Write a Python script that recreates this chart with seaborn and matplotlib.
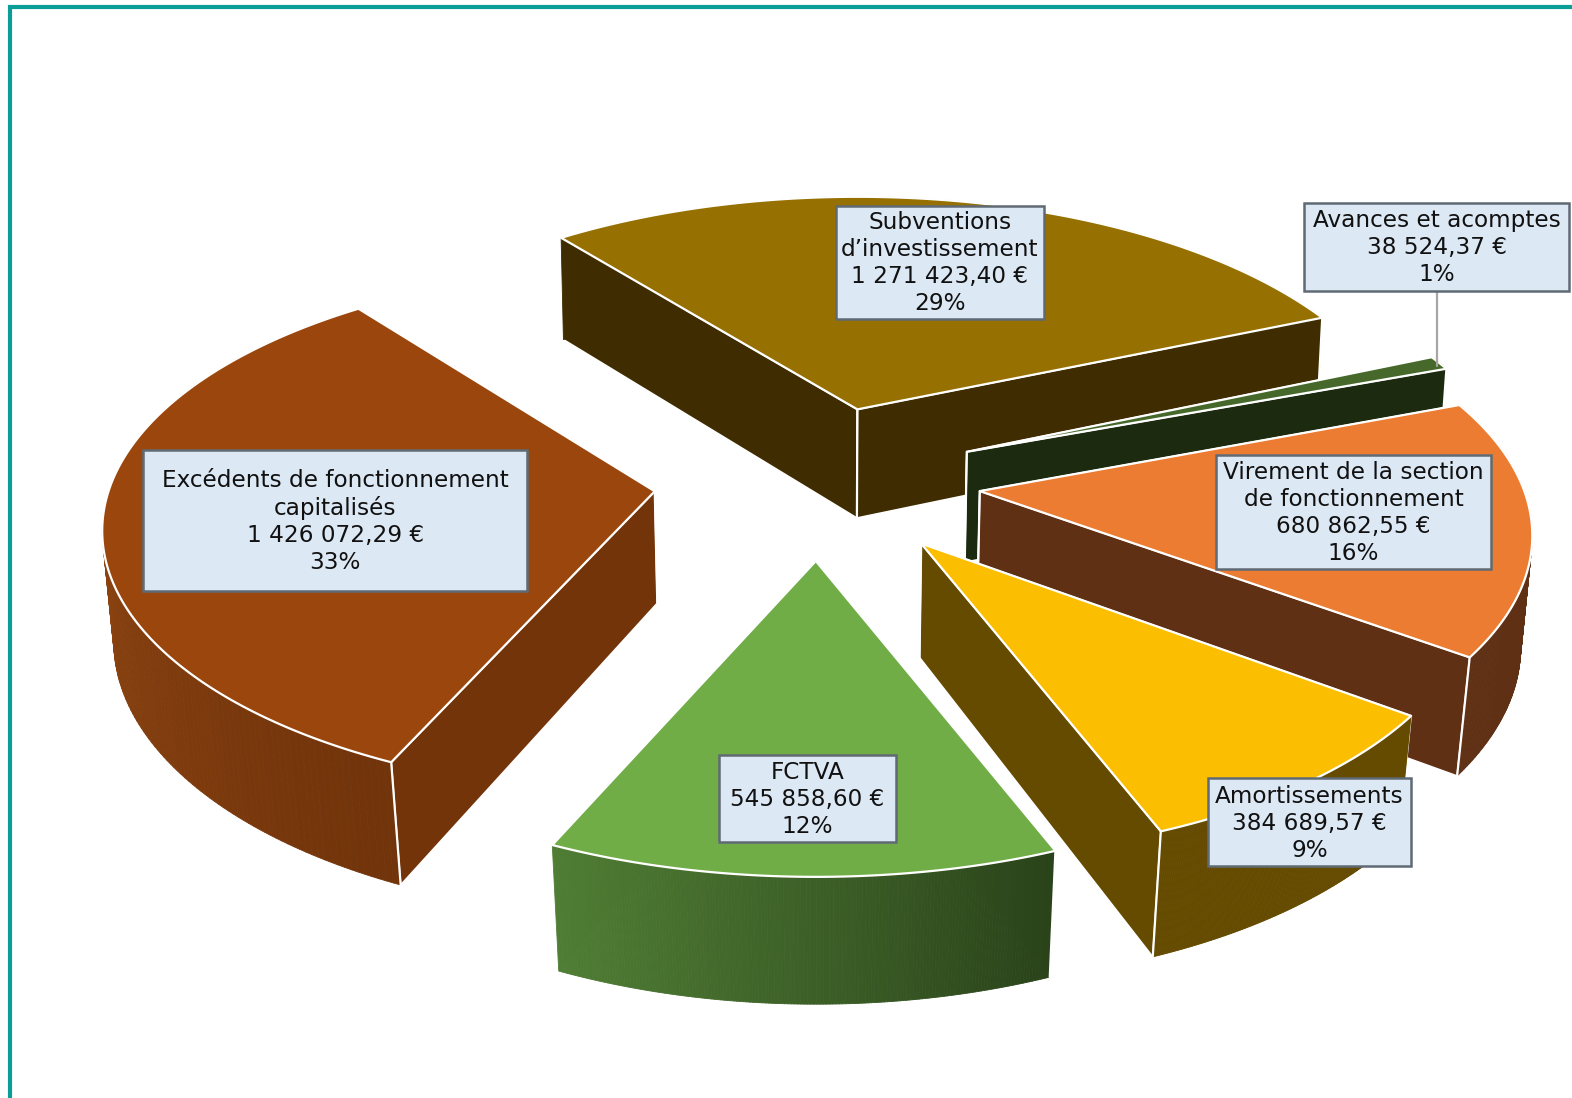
import numpy as np
import pandas as pd
import matplotlib
matplotlib.use("Agg")
import matplotlib.pyplot as plt
from matplotlib.collections import PolyCollection
from matplotlib.patches import Polygon, Rectangle
import seaborn as sns

# Recettes d'investissement, in the order the slices run clockwise
categories = ["Excédents de fonctionnement\ncapitalisés", "Subventions\nd’investissement",
              "Avances et acomptes", "Virement de la section\nde fonctionnement",
              "Amortissements", "FCTVA"]
values = [1426072.29, 1271423.40, 38524.37, 680862.55, 384689.57, 545858.60]
amount_labels = ["1 426 072,29 €", "1 271 423,40 €", "38 524,37 €",
                 "680 862,55 €", "384 689,57 €", "545 858,60 €"]
percent_labels = ["33%", "29%", "1%", "16%", "9%", "12%"]

# Appearance of each slice
top_colors = ["#9a460c", "#967000", "#46692b", "#eb7c31", "#fbbe00", "#70ad47"]
side_colors = ["#74340a", "#3f2c00", "#1c2a10", "#5f3014", "#654b00", "#2f4a1e"]
wall_left = ["#8a4210", "#3f2c00", "#1c2a10", "#5f3014", "#654b00", "#507e35"]
wall_right = ["#72340b", "#3f2c00", "#1c2a10", "#5f3014", "#654b00", "#2a431a"]
explode_x = [1.0, 0.83, 0.93, 0.96, 1.0, 1.0]
explode_y = [1.0, 0.96, 1.10, 0.70, 0.97, 1.0]
arc_lift = [13.0, 2.0, 5.0, 8.0, 2.0, 0.0]

# Label boxes: left, top, right, bottom
boxes = [(143, 449, 526, 589), (834, 205, 1041, 318), (1301, 202, 1565, 290),
         (1213, 454, 1487, 567), (1205, 776, 1407, 864), (717, 753, 894, 840)]
draw_order = [1, 2, 3, 0, 4, 5]

# Projection of the tilted pie onto the page
CX, CY = 819.0, 481.0
EXPLODE_X, EXPLODE_Y = 167.0, 78.5
RX, RY, PERSP = 540.0, 252.0, 0.2
START_ANGLE = 127.5

sns.set_theme(style="white")
plt.rcParams["font.family"] = ["DejaVu Sans"]

df = pd.DataFrame({"category": categories, "value": values})
df["sweep"] = df["value"] / df["value"].sum() * 360.0
df["start"] = START_ANGLE + df["sweep"].iloc[0] - df["sweep"].cumsum().shift(fill_value=0.0)
df["end"] = df["start"] - df["sweep"]

fig = plt.figure(figsize=(15.72, 10.98), dpi=100)
ax = fig.add_axes([0, 0, 1, 1])
ax.set_xlim(0, 1568)
ax.set_ylim(1095, 0)
ax.axis("off")


def foreshorten(deg):
    # Angles seen on the tilted page spread towards the far left of the pie
    return deg + 0.92 + 0.93 * np.cos(np.radians(deg - 160.0))


def top_point(apex, theta, lift):
    u, v = np.cos(theta), np.sin(theta)
    w = 1.0 + PERSP * v
    return np.column_stack([apex[0] + RX * u / w, apex[1] - lift - RY * v / w])


def lower(points):
    x, y = points[:, 0], points[:, 1]
    shrink = 0.003 + 0.02 * y / 800.0
    return np.column_stack([x + (CX - x) * shrink, y + 92.0 + 0.04 * y])


layer = 1
for i in draw_order:
    row = df.iloc[i]
    mid = np.radians((row["start"] + row["end"]) / 2.0)
    apex = (CX + explode_x[i] * EXPLODE_X * np.cos(mid),
            CY - explode_y[i] * EXPLODE_Y * np.sin(mid))
    theta = np.radians(foreshorten(np.linspace(row["start"], row["end"], 160)))
    arc = top_point(apex, theta, arc_lift[i])
    arc_low = lower(arc)
    apex_pt = np.array([apex])
    apex_low = lower(apex_pt)
    ends = sorted([(arc[0], arc_low[0]), (arc[-1], arc_low[-1])], key=lambda e: e[0][1])

    # Cut faces, the one nearer the viewer last
    for end_pt, end_low in ends:
        ax.add_patch(Polygon(np.vstack([apex_pt, end_pt, end_low, apex_low]),
                             closed=True, facecolor=side_colors[i],
                             edgecolor="white", linewidth=1.2, zorder=layer))
        layer += 1

    # Curved outer wall, shaded from left to right
    shades = sns.blend_palette([wall_left[i], wall_right[i]], n_colors=len(arc) - 1)
    order = np.argsort(np.argsort(arc[:-1, 0]))
    quads = [np.vstack([arc[k], arc[k + 1], arc_low[k + 1], arc_low[k]]) for k in range(len(arc) - 1)]
    colors = [shades[k] for k in order]
    ax.add_collection(PolyCollection(quads, facecolors=colors, edgecolors=colors,
                                     linewidths=0.6, zorder=layer))
    layer += 1
    end_pt, end_low = ends[1]
    ax.plot([end_pt[0], end_low[0]], [end_pt[1], end_low[1]], color="white", lw=1.6,
            solid_capstyle="round", zorder=layer)
    ax.plot([apex_pt[0, 0], apex_low[0, 0]], [apex_pt[0, 1], apex_low[0, 1]],
            color="white", lw=1.6, zorder=layer)
    layer += 1

    # Upper surface
    ax.add_patch(Polygon(np.vstack([apex_pt, arc]), closed=True, facecolor=top_colors[i],
                         edgecolor="white", linewidth=1.6, joinstyle="round", zorder=layer))
    layer += 1

# Leader line of the smallest slice
ax.plot([1433, 1433], [290, 365], color="#a6a6a6", lw=1.6, zorder=layer)
layer += 1

# Data labels
for i in range(len(df)):
    x0, y0, x1, y1 = boxes[i]
    ax.add_patch(Rectangle((x0, y0), x1 - x0, y1 - y0, facecolor="#dde8f5",
                           edgecolor="#5f6a75", linewidth=1.8, zorder=layer))
    label = "\n".join([categories[i], amount_labels[i], percent_labels[i]])
    ax.text((x0 + x1) / 2.0, (y0 + y1) / 2.0 + 1, label, ha="center", va="center",
            fontsize=16.7, color="#111111", linespacing=1.23, zorder=layer + 1)

# Teal frame, running off the right and bottom of the page
ax.plot([10, 10, 1568], [1095, 7, 7], color="#0a9e96", lw=3.0,
        solid_joinstyle="miter", zorder=layer + 2)

fig.savefig("out.png", dpi=100, facecolor="white")
